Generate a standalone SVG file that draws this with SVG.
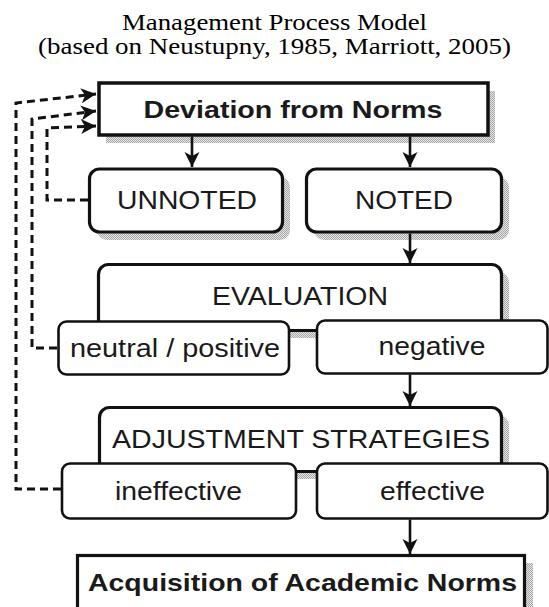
<svg xmlns="http://www.w3.org/2000/svg" width="549" height="607" viewBox="0 0 549 607">
<style>
.title{font-family:"Liberation Serif","Times New Roman",serif;font-size:23px;fill:#000;text-anchor:middle}
.t{font-family:"Liberation Sans",Arial,sans-serif;font-size:25px;fill:#1a1a1a;text-anchor:middle}
.b{font-weight:bold;font-size:24px}
.box{fill:#fff;stroke:#111;stroke-width:3.2}
.opt{fill:#fff;stroke:#111;stroke-width:2.6}
.shadow{fill:url(#shade);stroke:none}
.conn{fill:none;stroke:#111;stroke-width:2.6}
.dash{fill:none;stroke:#111;stroke-width:3;stroke-dasharray:8 5}
</style>
<defs>
<pattern id="shade" width="2" height="2" patternUnits="userSpaceOnUse">
<rect width="2" height="2" fill="#e4e4e4"/>
<rect width="1" height="1" fill="#a8a8a8"/>
<rect x="1" y="1" width="1" height="1" fill="#a8a8a8"/>
</pattern>
<marker id="arr" viewBox="-16 -8 17 16" refX="0" refY="0" markerWidth="17" markerHeight="16" markerUnits="userSpaceOnUse" orient="auto">
<path d="M-15,-7.5 L0,0 L-15,7.5 L-11,0 z" fill="#111"/>
</marker>
</defs>

<g id="title">
<text class="title" x="274.5" y="30" textLength="305" lengthAdjust="spacingAndGlyphs">Management Process Model</text>
<text class="title" x="274.5" y="54" textLength="473" lengthAdjust="spacingAndGlyphs">(based on Neustupny, 1985, Marriott, 2005)</text>
</g>

<g id="shadows">
<rect class="shadow" x="106" y="91" width="389" height="52"/>
<rect class="shadow" x="97" y="177" width="193" height="63" rx="10"/>
<rect class="shadow" x="314" y="177" width="195" height="63" rx="10"/>
<rect class="shadow" x="106" y="272" width="403" height="66" rx="10"/>
<rect class="shadow" x="107" y="415" width="402" height="64" rx="10"/>
<rect class="shadow" x="85" y="563" width="448" height="60"/>
</g>

<g id="deviation">
<rect class="box" x="99" y="83" width="389" height="52" style="stroke-width:3.5"/>
<text class="t b" x="293" y="118" textLength="299" lengthAdjust="spacingAndGlyphs">Deviation from Norms</text>
</g>

<g id="unnoted">
<rect class="box" x="89.5" y="169" width="193" height="63" rx="10"/>
<text class="t" x="187" y="209" textLength="140" lengthAdjust="spacingAndGlyphs">UNNOTED</text>
</g>

<g id="noted">
<rect class="box" x="306.5" y="169" width="195" height="63" rx="10"/>
<text class="t" x="404" y="209" textLength="98" lengthAdjust="spacingAndGlyphs">NOTED</text>
</g>

<g id="evaluation">
<rect class="box" x="98.5" y="264.5" width="403" height="66" rx="10"/>
<text class="t" x="300" y="305" textLength="176" lengthAdjust="spacingAndGlyphs">EVALUATION</text>
</g>

<g id="neutral-positive">
<rect class="opt" x="58.5" y="321.5" width="230.5" height="53" rx="8"/>
<text class="t" x="175" y="357" textLength="210" lengthAdjust="spacingAndGlyphs">neutral / positive</text>
</g>

<g id="negative">
<rect class="opt" x="317" y="320.5" width="230.5" height="53" rx="8"/>
<text class="t" x="432" y="355" textLength="107" lengthAdjust="spacingAndGlyphs">negative</text>
</g>

<g id="adjustment">
<rect class="box" x="99.5" y="407.5" width="402" height="64" rx="10"/>
<text class="t" x="301" y="448" textLength="378" lengthAdjust="spacingAndGlyphs">ADJUSTMENT STRATEGIES</text>
</g>

<g id="ineffective">
<rect class="opt" x="62" y="463.5" width="234" height="55" rx="8"/>
<text class="t" x="178.5" y="500" textLength="127" lengthAdjust="spacingAndGlyphs">ineffective</text>
</g>

<g id="effective">
<rect class="opt" x="317" y="463.5" width="230.5" height="55" rx="8"/>
<text class="t" x="432.5" y="500" textLength="105" lengthAdjust="spacingAndGlyphs">effective</text>
</g>

<g id="acquisition">
<rect class="box" x="77.5" y="555.5" width="447" height="60"/>
<text class="t b" x="302.5" y="591" textLength="429" lengthAdjust="spacingAndGlyphs">Acquisition of Academic Norms</text>
</g>

<g id="connectors">
<path class="conn" d="M192,136.5 V167" marker-end="url(#arr)"/>
<path class="conn" d="M410,136.5 V167" marker-end="url(#arr)"/>
<path class="conn" d="M410,233.5 V263" marker-end="url(#arr)"/>
<path class="conn" d="M410,374.5 V406" marker-end="url(#arr)"/>
<path class="conn" d="M410,519.5 V554" marker-end="url(#arr)"/>
<path class="dash" d="M88,200 H47 V128 L96,126" marker-end="url(#arr)"/>
<path class="dash" d="M57,348 H32 V119 L96,111" marker-end="url(#arr)"/>
<path class="dash" d="M61,489 H16 V103 L96,94" marker-end="url(#arr)"/>
</g>
</svg>
